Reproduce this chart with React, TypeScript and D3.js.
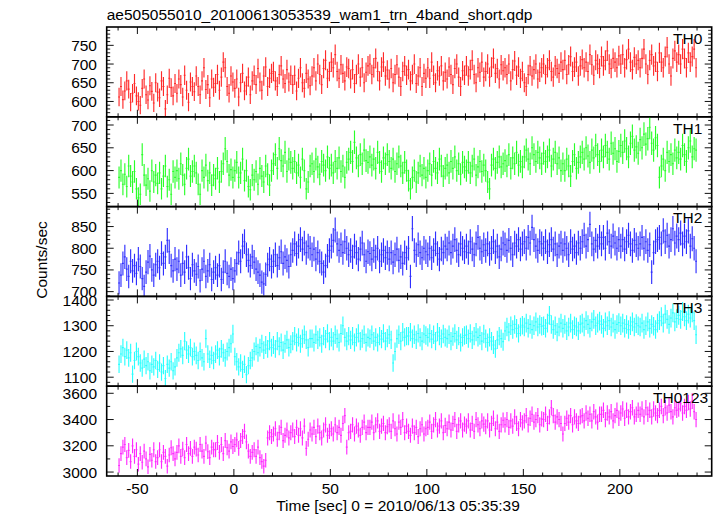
import * as d3 from 'd3';

const title = 'ae505055010_20100613053539_wam1_trn_4band_short.qdp';
const xLabel = 'Time [sec] 0 = 2010/06/13 05:35:39';
const yLabel = 'Counts/sec';

// 1 s bins, centre of the first one
const binStart = -59.5;
const binSize = 1;

const th0 = [
  612, 640, 605, 628, 655, 633, 598, 622, 648, 615,
  600, 590, 635, 660, 618, 604, 642, 627, 596, 650,
  625, 610, 655, 640, 580, 618, 662, 637, 615, 648,
  622, 660, 645, 612, 670, 630, 598, 652, 640, 626,
  668, 640, 618, 655, 690, 632, 645, 610, 660, 638,
  648, 672, 630, 665, 705, 690, 640, 622, 668, 652,
  635, 660, 612, 650, 675, 628, 642, 665, 618, 655,
  670, 645, 688, 652, 630, 668, 692, 640, 662, 675,
  680, 655, 640, 672, 695, 660, 648, 685, 652, 670,
  645, 670, 628, 662, 690, 650, 635, 675, 660, 642,
  668, 690, 655, 700, 672, 645, 688, 710, 662, 680,
  705, 690, 725, 680, 662, 698, 675, 655, 692, 688,
  660, 685, 648, 672, 700, 665, 690, 650, 678, 695,
  700, 672, 690, 715, 680, 655, 692, 705, 668, 684,
  660, 688, 650, 672, 698, 665, 640, 680, 695, 670,
  685, 655, 672, 700, 648, 668, 690, 640, 675, 662,
  690, 662, 705, 670, 650, 682, 668, 695, 655, 678,
  660, 692, 672, 645, 688, 700, 665, 640, 682, 670,
  695, 668, 685, 710, 672, 650, 690, 678, 705, 665,
  680, 700, 665, 692, 715, 675, 688, 660, 698, 682,
  690, 672, 700, 655, 685, 708, 670, 692, 662, 680,
  650, 640, 672, 695, 668, 685, 700, 660, 678, 690,
  700, 672, 690, 710, 680, 665, 695, 688, 675, 705,
  685, 710, 672, 698, 720, 680, 692, 705, 668, 695,
  712, 690, 705, 680, 725, 698, 670, 710, 700, 688,
  720, 695, 710, 735, 700, 688, 715, 705, 690, 722,
  700, 725, 690, 712, 740, 705, 685, 718, 700, 710,
  690, 715, 740, 700, 672, 710, 725, 695, 705, 680,
  730, 705, 690, 720, 745, 700, 668, 715, 735, 705,
  725, 700, 740, 715, 690, 730, 705, 720, 740, 690,
];

const th1 = [
  585, 600, 570, 592, 565, 610, 588, 575, 598, 560,
  540, 548, 635, 590, 568, 582, 555, 600, 575, 590,
  572, 595, 560, 588, 610, 565, 580, 548, 598, 585,
  600, 582, 615, 590, 570, 605, 625, 588, 598, 610,
  595, 570, 548, 600, 585, 612, 578, 595, 568, 590,
  582, 605, 575, 598, 615, 648, 620, 590, 602, 585,
  600, 618, 585, 595, 625, 578, 600, 565, 558, 590,
  580, 598, 570, 605, 588, 575, 610, 592, 568, 600,
  615, 635, 605, 648, 622, 610, 640, 598, 625, 618,
  605, 620, 595, 612, 585, 625, 600, 560, 575, 610,
  615, 598, 625, 608, 592, 620, 612, 600, 630, 605,
  612, 595, 620, 605, 628, 598, 610, 585, 618, 625,
  640, 620, 662, 628, 610, 635, 615, 645, 622, 618,
  630, 612, 625, 605, 640, 618, 598, 628, 615, 635,
  620, 605, 625, 598, 615, 630, 610, 595, 618, 600,
  578, 560, 585, 600, 575, 595, 610, 590, 605, 585,
  600, 615, 590, 620, 605, 595, 625, 610, 588, 605,
  612, 595, 620, 605, 630, 600, 615, 592, 618, 608,
  600, 618, 595, 610, 625, 590, 608, 620, 598, 612,
  600, 575, 560, 612, 625, 605, 618, 630, 608, 615,
  622, 610, 635, 605, 628, 615, 640, 612, 620, 608,
  630, 645, 625, 615, 650, 635, 620, 640, 628, 615,
  638, 620, 630, 645, 610, 625, 640, 615, 628, 600,
  615, 600, 625, 610, 588, 620, 635, 605, 618, 630,
  640, 625, 650, 632, 618, 645, 628, 655, 635, 620,
  645, 630, 655, 640, 625, 660, 638, 648, 620, 642,
  655, 640, 665, 648, 630, 660, 675, 645, 652, 638,
  668, 650, 680, 658, 670, 695, 660, 645, 672, 655,
  585, 610, 625, 600, 640, 620, 635, 615, 645, 628,
  640, 625, 655, 635, 620, 650, 665, 630, 648, 645,
];

const th2 = [
  720, 738, 765, 780, 752, 735, 770, 748, 760, 742,
  775, 758, 730, 712, 745, 768, 782, 750, 738, 762,
  770, 755, 788, 765, 780, 818, 792, 760, 748, 775,
  752, 770, 738, 765, 745, 780, 755, 730, 762, 748,
  740, 758, 725, 752, 770, 735, 748, 762, 728, 745,
  755, 738, 760, 728, 745, 770, 742, 735, 752, 730,
  748, 765, 790, 770, 805, 815, 785, 772, 760, 780,
  768, 752, 745, 738, 722, 718, 740, 762, 775, 758,
  770, 785, 760, 778, 792, 765, 780, 772, 758, 785,
  795, 810, 788, 805, 820, 798, 812, 790, 805, 800,
  785, 798, 775, 790, 770, 765, 745, 760, 782, 795,
  805, 818, 842, 810, 795, 808, 790, 815, 800, 785,
  795, 780, 805, 790, 775, 798, 812, 785, 770, 792,
  788, 775, 795, 780, 800, 770, 785, 795, 778, 790,
  775, 790, 768, 785, 798, 772, 780, 765, 790, 778,
  800, 735, 845, 795, 785, 808, 790, 778, 800, 792,
  785, 800, 778, 795, 810, 788, 775, 798, 790, 805,
  798, 812, 790, 805, 820, 795, 785, 810, 800, 792,
  805, 790, 815, 798, 785, 810, 825, 800, 792, 808,
  795, 810, 788, 800, 815, 792, 805, 780, 798, 812,
  808, 795, 818, 800, 785, 812, 805, 820, 798, 810,
  815, 800, 825, 812, 848, 820, 805, 795, 815, 810,
  800, 815, 792, 808, 820, 798, 810, 785, 805, 812,
  795, 810, 800, 785, 815, 798, 805, 790, 812, 800,
  815, 830, 805, 820, 855, 810, 798, 818, 805, 825,
  810, 825, 800, 835, 815, 805, 828, 812, 800, 820,
  805, 820, 798, 815, 830, 810, 795, 818, 808, 800,
  810, 825, 800, 815, 795, 808, 745, 790, 815, 820,
  825, 810, 840, 815, 830, 805, 820, 845, 812, 828,
  820, 835, 810, 828, 815, 840, 805, 822, 800, 770,
];

const th3 = [
  1150, 1190, 1215, 1180, 1205, 1175, 1195, 1112, 1165, 1200,
  1180, 1155, 1135, 1170, 1145, 1160, 1125, 1150, 1140, 1165,
  1130, 1155, 1120, 1145, 1095, 1150, 1135, 1160, 1125, 1140,
  1175, 1195, 1210, 1185, 1240, 1205, 1190, 1215, 1180, 1200,
  1185, 1165, 1200, 1175, 1160, 1250, 1190, 1170, 1185, 1165,
  1190, 1205, 1180, 1210, 1195, 1175, 1200, 1215, 1230, 1268,
  1180, 1160, 1140, 1155, 1130, 1150, 1110, 1145, 1165, 1175,
  1200, 1220, 1195, 1215, 1230, 1205, 1225, 1210, 1240, 1215,
  1225, 1210, 1240, 1220, 1235, 1205, 1230, 1245, 1215, 1228,
  1240, 1260, 1235, 1255, 1230, 1250, 1265, 1245, 1215, 1250,
  1250, 1235, 1265, 1245, 1255, 1230, 1260, 1248, 1270, 1240,
  1255, 1240, 1265, 1250, 1235, 1270, 1300, 1255, 1240, 1260,
  1245, 1260, 1235, 1255, 1270, 1240, 1250, 1265, 1235, 1255,
  1250, 1265, 1240, 1255, 1235, 1260, 1248, 1270, 1240, 1252,
  1265, 1245, 1155, 1200, 1250, 1265, 1240, 1275, 1255, 1260,
  1260, 1275, 1250, 1265, 1245, 1270, 1255, 1240, 1268, 1262,
  1255, 1270, 1248, 1265, 1240, 1275, 1260, 1250, 1268, 1255,
  1250, 1265, 1240, 1258, 1270, 1245, 1260, 1235, 1255, 1262,
  1265, 1250, 1270, 1245, 1260, 1275, 1255, 1262, 1240, 1268,
  1250, 1235, 1255, 1240, 1225, 1210, 1245, 1260, 1250, 1238,
  1280, 1295, 1275, 1300, 1285, 1305, 1290, 1270, 1295, 1302,
  1295, 1310, 1290, 1305, 1285, 1300, 1315, 1295, 1305, 1298,
  1300, 1290, 1310, 1340, 1305, 1285, 1300, 1275, 1295, 1310,
  1290, 1305, 1280, 1295, 1310, 1285, 1300, 1295, 1280, 1305,
  1310, 1295, 1320, 1305, 1290, 1315, 1325, 1300, 1310, 1318,
  1305, 1290, 1315, 1300, 1320, 1295, 1310, 1285, 1305, 1312,
  1300, 1310, 1290, 1305, 1285, 1300, 1315, 1295, 1308, 1300,
  1295, 1310, 1285, 1300, 1315, 1290, 1305, 1298, 1285, 1310,
  1320, 1335, 1310, 1345, 1325, 1305, 1330, 1350, 1315, 1328,
  1340, 1325, 1355, 1335, 1320, 1345, 1330, 1350, 1320, 1265,
];

const th0123 = [
  3050, 3140, 3190, 3210, 3110, 3165, 3080, 3200, 3120, 3170,
  3060, 3140, 3075, 3160, 3100, 3040, 3135, 3090, 3170, 3080,
  3110, 3170, 3080, 3150, 3120, 3045, 3130, 3185, 3140, 3100,
  3150, 3200, 3120, 3175, 3110, 3210, 3140, 3180, 3120, 3190,
  3175, 3130, 3210, 3160, 3120, 3220, 3155, 3110, 3190, 3170,
  3170, 3225, 3150, 3210, 3140, 3240, 3185, 3160, 3230, 3195,
  3210, 3245, 3180, 3240, 3270, 3310, 3230, 3160, 3120, 3150,
  3170, 3120, 3190, 3110, 3080, 3045, 3090, 3260, 3300, 3270,
  3290, 3330, 3250, 3300, 3340, 3240, 3280, 3320, 3260, 3300,
  3320, 3270, 3340, 3280, 3330, 3260, 3350, 3180, 3250, 3320,
  3290, 3340, 3270, 3350, 3300, 3260, 3320, 3360, 3280, 3310,
  3330, 3290, 3360, 3300, 3340, 3280, 3370, 3430, 3190, 3300,
  3310, 3360, 3290, 3350, 3320, 3280, 3340, 3380, 3300, 3340,
  3340, 3380, 3300, 3360, 3390, 3310, 3350, 3370, 3300, 3345,
  3360, 3310, 3390, 3330, 3290, 3380, 3340, 3400, 3300, 3350,
  3310, 3280, 3350, 3300, 3340, 3270, 3330, 3360, 3290, 3330,
  3340, 3380, 3310, 3360, 3400, 3320, 3350, 3390, 3300, 3355,
  3330, 3380, 3320, 3370, 3400, 3310, 3360, 3390, 3320, 3365,
  3350, 3390, 3320, 3370, 3310, 3400, 3360, 3330, 3390, 3365,
  3345, 3390, 3320, 3370, 3410, 3330, 3380, 3310, 3360, 3395,
  3360, 3400, 3340, 3390, 3350, 3420, 3370, 3330, 3400, 3375,
  3390, 3430, 3360, 3410, 3440, 3380, 3400, 3430, 3360, 3405,
  3400, 3440, 3370, 3420, 3490, 3430, 3380, 3420, 3400, 3370,
  3290, 3370, 3410, 3380, 3430, 3360, 3420, 3390, 3370, 3420,
  3430, 3390, 3450, 3410, 3440, 3390, 3460, 3420, 3380, 3440,
  3440, 3470, 3400, 3450, 3420, 3460, 3390, 3430, 3470, 3410,
  3450, 3480, 3410, 3470, 3420, 3460, 3490, 3420, 3440, 3470,
  3440, 3480, 3420, 3490, 3440, 3470, 3420, 3480, 3450, 3430,
  3470, 3500, 3430, 3490, 3450, 3510, 3460, 3420, 3490, 3470,
  3480, 3520, 3450, 3500, 3470, 3530, 3480, 3540, 3460, 3400,
];

const bands = [
  { name: 'TH0', values: th0, color: '#ff2a2a', domain: [559, 799], major: 50, minor: 10, nameX: 673 },
  { name: 'TH1', values: th1, color: '#2aff2a', domain: [521, 718], major: 50, minor: 10, nameX: 673 },
  { name: 'TH2', values: th2, color: '#3030ff', domain: [689, 896], major: 50, minor: 10, nameX: 673 },
  { name: 'TH3', values: th3, color: '#2affff', domain: [1065, 1414], major: 100, minor: 20, nameX: 673 },
  { name: 'TH0123', values: th0123, color: '#ff2aff', domain: [2970, 3654], major: 200, minor: 100, nameX: 653 },
];

const W = 717;
const H = 516;
const left = 106.7;
const right = 711.7;
const top = 27;
const bottom = 476;
const panelH = (bottom - top) / bands.length;
const font = '"Liberation Sans", Arial, sans-serif';

const x = d3.scaleLinear().domain([-65.9, 247.6]).range([left, right]);

function ticks(d0: number, d1: number, step: number) {
  return d3.range(Math.ceil(d0 / step) * step, d1 + 1e-9, step);
}

function Panel({ band, i }: { band: typeof bands[number]; i: number }) {
  const y0 = top + i * panelH;
  const y1 = y0 + panelH;
  const y = d3.scaleLinear().domain(band.domain).range([y1, y0]);

  // error bars: Poisson, 1 s bins
  let d = '';
  band.values.forEach((v, k) => {
    const t = binStart + k * binSize;
    const e = Math.sqrt(v * binSize) / binSize;
    const px = x(t);
    d += `M${px},${y(v - e)}V${y(v + e)}M${x(t - binSize / 2)},${y(v)}H${x(t + binSize / 2)}`;
  });

  const [xd0, xd1] = x.domain();
  const xMajor = ticks(xd0, xd1, 50);
  const xMinor = ticks(xd0, xd1, 10);
  const yMajor = ticks(band.domain[0], band.domain[1], band.major);
  const yMinor = ticks(band.domain[0], band.domain[1], band.minor);

  let td = '';
  xMinor.forEach(t => {
    const len = xMajor.includes(t) ? 7 : 3.5;
    td += `M${x(t)},${y1}v${-len}M${x(t)},${y0}v${len}`;
  });
  yMinor.forEach(v => {
    const len = yMajor.includes(v) ? 7 : 3.5;
    td += `M${left},${y(v)}h${len}M${right},${y(v)}h${-len}`;
  });

  const clipId = `clip-${i}`;
  return (
    <g>
      <clipPath id={clipId}>
        <rect x={left} y={y0} width={right - left} height={panelH} />
      </clipPath>
      <path d={d} stroke={band.color} strokeWidth={1.15} fill="none" clipPath={`url(#${clipId})`} />
      <path d={td} stroke="#111" strokeWidth={1} fill="none" />
      <rect x={left} y={y0} width={right - left} height={panelH} fill="none" stroke="#000" strokeWidth={1.6} />
      {yMajor.map(v => (
        <text key={v} x={97} y={y(v) + 5.5} textAnchor="end" fontSize={15.5} fontFamily={font}>{v}</text>
      ))}
      <text x={band.nameX} y={y0 + 16.7} fontSize={15.5} fontFamily={font}>{band.name}</text>
    </g>
  );
}

export default function App() {
  const xMajor = ticks(x.domain()[0], x.domain()[1], 50);
  return (
    <svg width={W} height={H} style={{ position: 'absolute', left: 0, top: 0, background: '#fff' }}>
      <text x={left} y={20} fontSize={15.5} fontFamily={font}>{title}</text>
      {bands.map((b, i) => <Panel key={b.name} band={b} i={i} />)}
      {xMajor.map(t => (
        <text key={t} x={x(t)} y={494} textAnchor="middle" fontSize={15.5} fontFamily={font}>{String(t)}</text>
      ))}
      <text x={398} y={511} textAnchor="middle" fontSize={15.5} fontFamily={font}>{xLabel}</text>
      <text transform="translate(46.5,260) rotate(-90)" textAnchor="middle" fontSize={15.5} fontFamily={font}>{yLabel}</text>
    </svg>
  );
}
